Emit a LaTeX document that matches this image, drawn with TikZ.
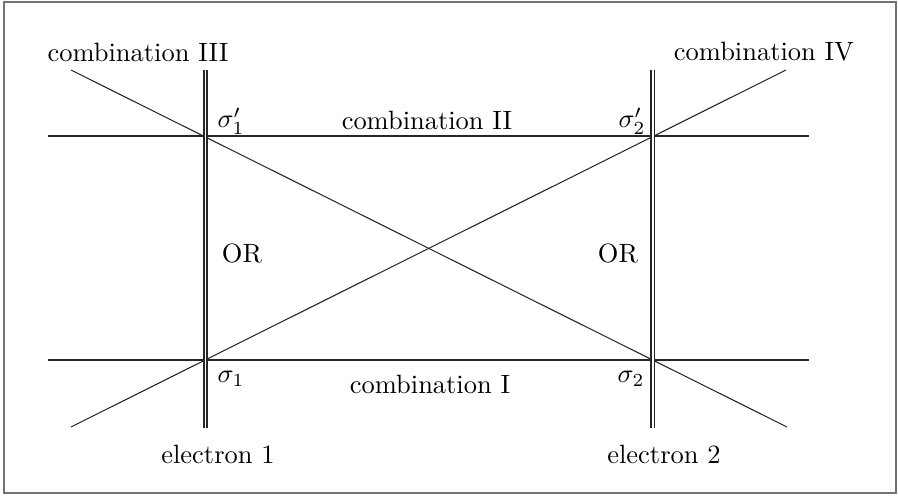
\documentclass[tikz,border=0pt]{standalone}
\begin{document}
\begin{tikzpicture}[x=0.378pt,y=-0.378pt,
  thinline/.style={line width=0.4pt,draw=black!85},
  elec/.style={line width=0.4pt,draw=black!85,double=white,double distance=0.75pt},
  lbl/.style={inner sep=0pt,anchor=center}]
\useasboundingbox (0,0) rectangle (898,496);
\draw[line width=0.8pt,draw=black!55] (4,2) rectangle (896,493);
% endpoints
\coordinate (h1l) at (48,136);
\coordinate (h1r) at (809,136);
\coordinate (h2l) at (48,360);
\coordinate (h2r) at (809,360);
\coordinate (e1t) at (205.5,70);
\coordinate (e1b) at (205.5,428);
\coordinate (e2t) at (652.5,70);
\coordinate (e2b) at (652.5,428);
\coordinate (d3a) at (71,70);
\coordinate (d3b) at (787,427);
\coordinate (d4a) at (71,427);
\coordinate (d4b) at (786,70);
% lines
\draw[thinline] (h1l) -- (h1r);
\draw[thinline] (h2l) -- (h2r);
\draw[thinline] (d3a) -- (d3b);
\draw[thinline] (d4a) -- (d4b);
\draw[elec] (e1t) -- (e1b);
\draw[elec] (e2t) -- (e2b);
% labels
\node[lbl] (c3) at (138,52) {combination III};
\node[lbl] (c4) at (764,52) {combination IV};
\node[lbl] (c2) at (427,120) {combination II};
\node[lbl] (c1) at (430,384) {combination I};
\node[lbl] (s1p) at (231,121) {$\sigma'_1$};
\node[lbl] (s2p) at (632,121) {$\sigma'_2$};
\node[lbl] (s1) at (231,379) {$\sigma_1$};
\node[lbl] (s2) at (631,379) {$\sigma_2$};
\node[lbl] (or1) at (242,253) {OR};
\node[lbl] (or2) at (618,253) {OR};
\node[lbl] (el1) at (218,454) {electron 1};
\node[lbl] (el2) at (664,454) {electron 2};
\end{tikzpicture}
\end{document}
